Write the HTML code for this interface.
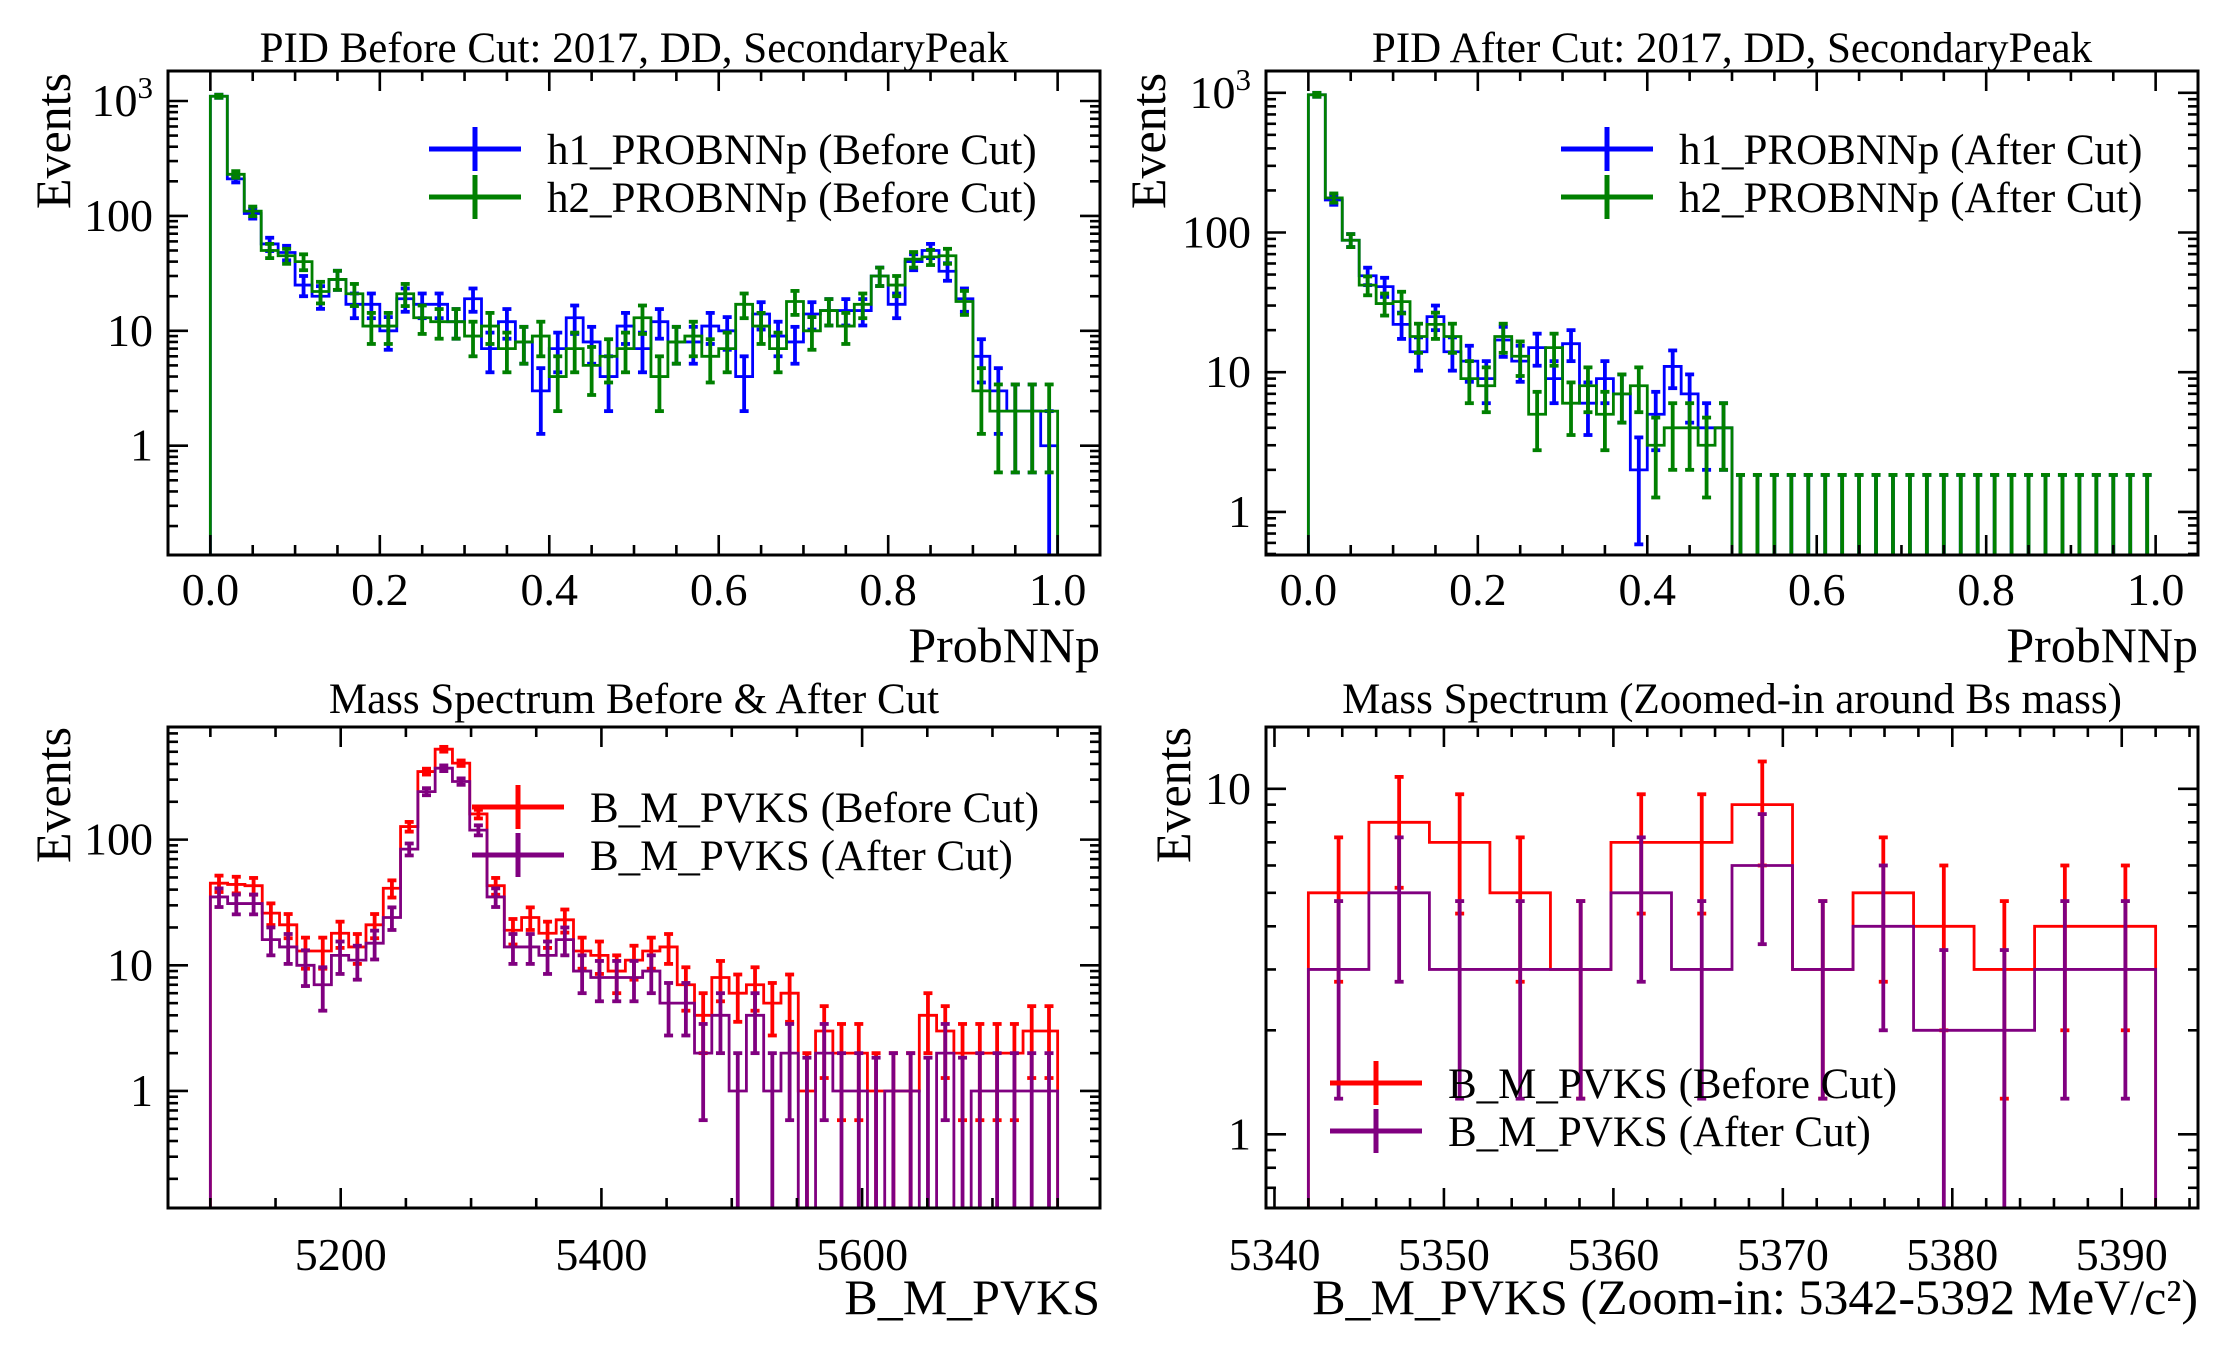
<!DOCTYPE html>
<html><head><meta charset="utf-8">
<style>
html,body{margin:0;padding:0;background:#fff;}
svg{display:block;font-family:"Liberation Serif","DejaVu Serif",serif;}
</style></head>
<body>
<svg id="fig" width="2231" height="1350" viewBox="0 0 2231 1350" xmlns="http://www.w3.org/2000/svg"></svg>
<script>
// ---------- data ----------
const tlH1 = [1100,210,105,57,48,25,20,28,17,17,10,19,17,17,12,19,7,12,8,3,7,13,8,4,11,7,12,8,8,11,10,4,14,9,8,14,15,15,15,30,17,40,50,33,19,6,3,2,2,1];
const tlH2 = [1100,230,110,50,45,40,22,28,21,11,11,21,13,12,12,9,11,7,8,9,4,7,5,6,7,13,4,8,9,6,7,17,11,7,18,10,15,11,17,30,25,42,44,45,18,3,2,2,2,2];
const trH1 = [968,171,88,49,41,22,14,25,14,12,9,17,12,15,9,16,6,9,7,2,5,11,7,4,4,0,0,0,0,0,0,0,0,0,0,0,0,0,0,0,0,0,0,0,0,0,0,0,0,0];
const trH2 = [968,177,88,42,31,32,18,22,18,9,8,18,13,5,15,6,8,5,7,8,3,4,4,3,4,0,0,0,0,0,0,0,0,0,0,0,0,0,0,0,0,0,0,0,0,0,0,0,0,0];
const blBefore = [45,44,43,26,21,13,13,18,14,21,41,127,348,524,406,160,43,19,24,18,23,13,12,9,11,13,14,7,4,8,6,7,5,6,1,3,2,2,1,1,1,4,3,2,2,2,2,3,3];
const blAfter = [35,31,31,16,14,10,7,12,11,15,24,84,241,370,290,119,35,14,14,12,16,9,8,8,8,9,5,5,2,4,1,4,1,2,0,2,1,1,0,1,1,0,2,0,1,1,1,1,1];
const brBefore = [5,8,7,5,3,7,7,9,3,5,4,3,4,4];
const brAfter = [3,5,3,3,3,5,3,6,3,4,2,2,3,3];
const tlXTicks = [0.0,0.2,0.4,0.6,0.8,1.0];
const tlXTickLabels = ["0.0","0.2","0.4","0.6","0.8","1.0"];
const blXTicks = [5200,5400,5600];
const brXTicks = [5340,5350,5360,5370,5380,5390];

const NS = "http://www.w3.org/2000/svg";
const svg = document.getElementById('fig');
function mk(tag, attrs, parent){
  const e = document.createElementNS(NS, tag);
  for (const k in attrs) e.setAttribute(k, attrs[k]);
  (parent||svg).appendChild(e);
  return e;
}
const FS_TICK = 46, FS_LAB = 50, FS_TITLE = 43, FS_LEG = 43;

function panel(cfg){
  const g = mk('g', {});
  
  
  const X = v => cfg.x0 + (v - cfg.xd[0])/(cfg.xd[1]-cfg.xd[0])*(cfg.x1-cfg.x0);
  const Y = v => cfg.y1 - (Math.log10(v) - cfg.yd[0])/(cfg.yd[1]-cfg.yd[0])*(cfg.y1-cfg.y0);
  const Yc = v => (v<=0) ? cfg.y1+10 : Math.min(cfg.y1+10, Y(v));
  const cid = 'clip-'+cfg.name;
  const cp = mk('clipPath', {id: cid}, g);
  mk('rect', {x: cfg.x0, y: cfg.y0, width: cfg.x1-cfg.x0, height: cfg.y1-cfg.y0}, cp);
  const plot = mk('g', {'clip-path': 'url(#'+cid+')'}, g);
  
  

  cfg.series.forEach(s => {
    const n = s.vals.length;
    const bw = (cfg.range[1]-cfg.range[0])/n;
    let d = 'M' + X(cfg.range[0]) + ',' + (cfg.y1+10);
    for (let i=0;i<n;i++){
      const xa = X(cfg.range[0]+i*bw), xb = X(cfg.range[0]+(i+1)*bw);
      const y = Yc(s.vals[i]);
      d += ' L' + xa + ',' + y + ' L' + xb + ',' + y;
    }
    d += ' L' + X(cfg.range[1]) + ',' + (cfg.y1+10);
    const p = mk('path', {d: d, fill: 'none', stroke: s.color, 'stroke-width': 2.8}, plot);
    
    
    const eg = mk('g', {stroke: s.color, 'stroke-width': 3.8}, plot);
    
    
    for (let i=0;i<n;i++){
      const v = s.vals[i];
      const xc = X(cfg.range[0]+(i+0.5)*bw);
      const hi = v>0 ? v+Math.sqrt(v) : 1.84;
      const lo = v>0 ? v-Math.sqrt(v) : 0;
      const yh = Y(hi), yl = lo>0 ? Y(lo) : cfg.y1+10;
      const ln = mk('line', {x1: xc, x2: xc, y1: yh, y2: yl}, eg);
      
      
      mk('line', {x1: xc-4.5, x2: xc+4.5, y1: yh, y2: yh}, eg);
      if (lo>0) mk('line', {x1: xc-4.5, x2: xc+4.5, y1: yl, y2: yl}, eg);
    }
  });

  const fr = mk('rect', {x: cfg.x0, y: cfg.y0, width: cfg.x1-cfg.x0, height: cfg.y1-cfg.y0, fill: 'none', stroke: '#000', 'stroke-width': 3}, g);
  
  
  const tg = mk('g', {stroke: '#000', 'stroke-width': 2.6}, g);
  for (let t = cfg.xminor[0]; t <= cfg.xd[1]+1e-9; t += cfg.xminor[1]){
    if (t < cfg.xd[0]) continue;
    const major = Math.abs(((t - cfg.xmajor[0]) / cfg.xmajor[1]) - Math.round((t - cfg.xmajor[0]) / cfg.xmajor[1])) < 1e-6;
    const L = major ? 20 : 10, x = X(t);
    mk('line', {x1: x, x2: x, y1: cfg.y1, y2: cfg.y1-L}, tg);
    mk('line', {x1: x, x2: x, y1: cfg.y0, y2: cfg.y0+L}, tg);
  }
  for (let e = Math.floor(cfg.yd[0]); e <= Math.ceil(cfg.yd[1]); e++){
    for (let m=1;m<10;m++){
      const v = m*Math.pow(10,e), lv = Math.log10(v);
      if (lv < cfg.yd[0] || lv > cfg.yd[1]) continue;
      const L = m===1 ? 20 : 10, y = Y(v);
      mk('line', {x1: cfg.x0, x2: cfg.x0+L, y1: y, y2: y}, tg);
      mk('line', {x1: cfg.x1, x2: cfg.x1-L, y1: y, y2: y}, tg);
    }
  }
  cfg.xlabels.forEach((t,i) => {
    const tx = mk('text', {x: X(t), y: cfg.y1+cfg.xtickOff, 'font-size': FS_TICK, 'text-anchor': 'middle'}, g);
    tx.textContent = cfg.xlabelText ? cfg.xlabelText[i] : String(t);
    
    
  });
  cfg.ylabels.forEach(lab => {
    const tx = mk('text', {x: cfg.x0-15, y: Y(lab.v)+15, 'font-size': FS_TICK, 'text-anchor': 'end'}, g);
    if (lab.sup){
      tx.textContent = '10';
      const ts = mk('tspan', {'font-size': 31, dy: -18}, tx);
      ts.textContent = '3';
    } else tx.textContent = lab.t;
    
    
  });
  const tt = mk('text', {x: (cfg.x0+cfg.x1)/2, y: cfg.titleY, 'font-size': FS_TITLE, 'text-anchor': 'middle'}, g);
  tt.textContent = cfg.title;
  
  
  const xl = mk('text', {x: cfg.x1, y: cfg.xlabY, 'font-size': FS_LAB, 'text-anchor': 'end'}, g);
  xl.textContent = cfg.xlabel;
  
  
  const yl = mk('text', {x: 0, y: 0, 'font-size': FS_LAB, 'text-anchor': 'middle', transform: 'translate('+cfg.ylabX+','+cfg.ylabY+') rotate(-90)'}, g);
  yl.textContent = 'Events';
  
  
  const lg = mk('g', {}, g);
  
  
  cfg.series.forEach((s, i) => {
    const y = cfg.leg.y + i*48;
    const e = mk('g', {}, lg);
    
    
    mk('line', {x1: cfg.leg.x, x2: cfg.leg.x+92, y1: y, y2: y, stroke: s.color, 'stroke-width': 5}, e);
    mk('line', {x1: cfg.leg.x+46, x2: cfg.leg.x+46, y1: y-22, y2: y+22, stroke: s.color, 'stroke-width': 5}, e);
    const t = mk('text', {x: cfg.leg.x+118, y: y+15, 'font-size': FS_LEG}, e);
    t.textContent = s.label;
  });
}

panel({name:'pid-before-cut-panel', x0:168, x1:1100, y0:71, y1:555, xd:[-0.05,1.05], yd:[-0.951,3.261],
  range:[0,1], xmajor:[0,0.2], xminor:[0,0.05], xlabels:tlXTicks, xlabelText:tlXTickLabels, xtickOff:50,
  ylabels:[{v:1,t:'1'},{v:10,t:'10'},{v:100,t:'100'},{v:1000,sup:true}],
  title:'PID Before Cut: 2017, DD, SecondaryPeak', titleY:62, xlabel:'ProbNNp', xlabY:662, ylabX:70, ylabY:141,
  leg:{x:429, y:149},
  series:[{key:'h1',vals:tlH1,color:'#0000ff',label:'h1_PROBNNp (Before Cut)'},
          {key:'h2',vals:tlH2,color:'#008000',label:'h2_PROBNNp (Before Cut)'}]});
panel({name:'pid-after-cut-panel', x0:1266, x1:2198, y0:71, y1:555, xd:[-0.05,1.05], yd:[-0.3085,3.156],
  range:[0,1], xmajor:[0,0.2], xminor:[0,0.05], xlabels:tlXTicks, xlabelText:tlXTickLabels, xtickOff:50,
  ylabels:[{v:1,t:'1'},{v:10,t:'10'},{v:100,t:'100'},{v:1000,sup:true}],
  title:'PID After Cut: 2017, DD, SecondaryPeak', titleY:62, xlabel:'ProbNNp', xlabY:662, ylabX:1165, ylabY:141,
  leg:{x:1561, y:149},
  series:[{key:'h1',vals:trH1,color:'#0000ff',label:'h1_PROBNNp (After Cut)'},
          {key:'h2',vals:trH2,color:'#008000',label:'h2_PROBNNp (After Cut)'}]});
panel({name:'mass-spectrum-panel', x0:168, x1:1100, y0:727, y1:1208, xd:[5067.5,5782.5], yd:[-0.931,2.896],
  range:[5100,5750], xmajor:[5200,200], xminor:[5100,50], xlabels:blXTicks, xtickOff:62,
  ylabels:[{v:1,t:'1'},{v:10,t:'10'},{v:100,t:'100'}],
  title:'Mass Spectrum Before & After Cut', titleY:713, xlabel:'B_M_PVKS', xlabY:1314, ylabX:70, ylabY:795,
  leg:{x:472, y:807},
  series:[{key:'before',vals:blBefore,color:'#ff0000',label:'B_M_PVKS (Before Cut)'},
          {key:'after',vals:blAfter,color:'#800080',label:'B_M_PVKS (After Cut)'}]});
panel({name:'mass-zoom-panel', x0:1266, x1:2198, y0:727, y1:1208, xd:[5339.5,5394.5], yd:[-0.2134,1.179],
  range:[5342,5392], xmajor:[5340,10], xminor:[5340,2], xlabels:brXTicks, xtickOff:62,
  ylabels:[{v:1,t:'1'},{v:10,t:'10'}],
  title:'Mass Spectrum (Zoomed-in around Bs mass)', titleY:713, xlabel:'B_M_PVKS (Zoom-in: 5342-5392 MeV/c²)', xlabY:1314, ylabX:1190, ylabY:795,
  leg:{x:1330, y:1083},
  series:[{key:'before',vals:brBefore,color:'#ff0000',label:'B_M_PVKS (Before Cut)'},
          {key:'after',vals:brAfter,color:'#800080',label:'B_M_PVKS (After Cut)'}]});
</script>
</body></html>
